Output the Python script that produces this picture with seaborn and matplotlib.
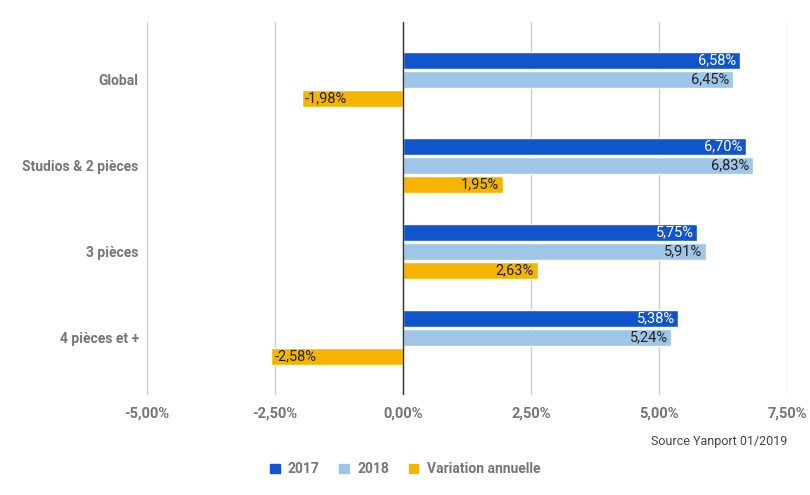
import matplotlib.pyplot as plt
import pandas as pd
import seaborn as sns

# Data (percent)
categories = ["Global", "Studios & 2 pièces", "3 pièces", "4 pièces et +"]
series = ["2017", "2018", "Variation annuelle"]
values_2017 = [6.58, 6.70, 5.75, 5.38]
values_2018 = [6.45, 6.83, 5.91, 5.24]
values_var = [-1.98, 1.95, 2.63, -2.58]
x_ticks = [-5.0, -2.5, 0.0, 2.5, 5.0, 7.5]

colors = ["#1155cc", "#9fc5e8", "#f4b400"]
label_colors = ["white", "#222222", "#222222"]

df = pd.DataFrame({
    "categorie": categories * 3,
    "serie": [s for s in series for _ in categories],
    "valeur": values_2017 + values_2018 + values_var,
})

sns.set_style("white")
plt.rcParams["font.family"] = ["Roboto", "DejaVu Sans"]

fig = plt.figure(figsize=(8.1, 4.95), dpi=100)
ax = fig.add_axes([0.1815, 0.202, 0.79, 0.7536])

sns.barplot(data=df, y="categorie", x="valeur", hue="serie", order=categories,
            hue_order=series, palette=colors, orient="h", width=0.66, gap=0.1,
            saturation=1, ax=ax, legend=False)

def fmt(v):
    return f"{v:.2f}".replace(".", ",") + "%"

# Value labels inside the bar ends
for container, col in zip(ax.containers, label_colors):
    for bar in container:
        w = bar.get_width()
        y = bar.get_y() + bar.get_height() / 2
        if w >= 0:
            ax.text(w - 0.07, y, fmt(w), ha="right", va="center", color=col, fontsize=10.5)
        else:
            ax.text(w + 0.07, y, fmt(w), ha="left", va="center", color=col, fontsize=10.5)

ax.set_xlim(-5, 7.5)
ax.set_ylim(3.67, -0.67)
ax.set_xticks(x_ticks)
ax.set_xticklabels([fmt(t) for t in x_ticks])
ax.grid(axis="x", color="#cccccc", linewidth=1)
ax.set_axisbelow(True)
ax.axvline(0, color="#333333", linewidth=1)
for s in ax.spines.values():
    s.set_visible(False)
ax.tick_params(axis="x", length=0, labelsize=10.5, labelcolor="#757575", pad=8)
ax.tick_params(axis="y", length=0, labelsize=10, labelcolor="#757575", pad=6)
for lab in ax.get_xticklabels() + ax.get_yticklabels():
    lab.set_fontweight("bold")
ax.set_xlabel("")
ax.set_ylabel("")

fig.text(0.9716, 0.108, "Source Yanport 01/2019", ha="right", va="center",
         fontsize=9, color="#444444")

handles = [plt.Rectangle((0, 0), 1, 1, color=c) for c in colors]
leg = fig.legend(handles, series, loc="center", bbox_to_anchor=(0.5, 0.052), ncol=3,
                 frameon=False, handlelength=0.7, handleheight=0.7, handletextpad=0.6,
                 columnspacing=1.4, prop={"weight": "bold", "size": 10})
for t in leg.get_texts():
    t.set_color("#757575")

fig.savefig("out.png", dpi=100)
